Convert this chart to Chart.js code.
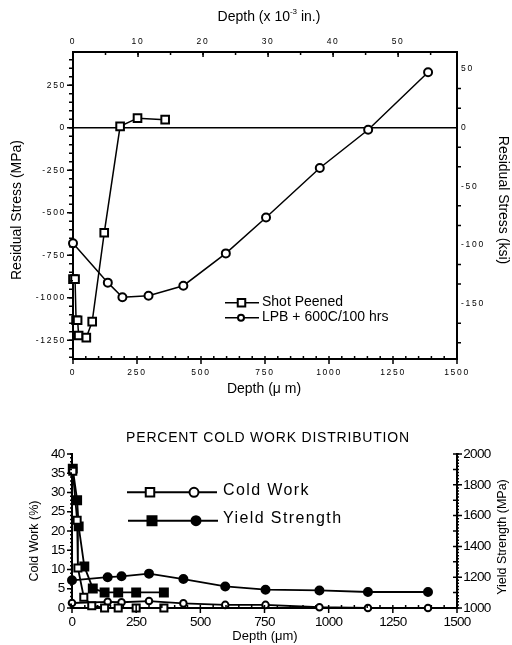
<!DOCTYPE html>
<html>
<head>
<meta charset="utf-8">
<title>Residual stress and cold work</title>
<script src="https://cdn.jsdelivr.net/npm/chart.js"></script>
<style>
  body { margin: 0; background: #fff; }
  canvas { display: block; }
</style>
</head>
<body>
<canvas id="stressChart" width="512" height="400"></canvas>
<canvas id="coldWorkChart" width="512" height="245"></canvas>
<script>
// Data (depth in um, stress in MPa)
var shotDepth = [0, 8, 12, 18, 22, 52, 75, 122, 184, 252, 360];
var shotStress = [-890, -890, -1132, -1132, -1222, -1234, -1140, -618, 8, 56, 47];
var lpbDepth = [0, 136, 193, 295, 431, 597, 754, 964, 1153, 1387];
var lpbStress = [-680, -911, -997, -988, -929, -739, -528, -237, -12, 326];

// cold work (%) and yield strength (MPa)
var cwShotDepth = [3, 20, 23, 46, 77, 127, 180, 250, 358];
var cwShot = [35.5, 22.8, 10.4, 2.8, 0.6, 0, 0, 0, 0];
var ysShotDepth = [3, 20, 26, 48, 81, 127, 180, 250, 358];
var ysShot = [1905, 1700, 1530, 1270, 1127, 1101, 1101, 1101, 1101];
var cwLpbDepth = [0, 139, 193, 300, 434, 597, 754, 964, 1153, 1387];
var cwLpb = [1.3, 1.6, 1.5, 1.8, 1.2, 0.8, 0.8, 0.2, 0, 0];
var ysLpb = [1180, 1200, 1206, 1223, 1188, 1140, 1119, 1114, 1104, 1104];

// tick labels
var depthTicks = [0, 250, 500, 750, 1000, 1250, 1500];
var milTicks = [0, 10, 20, 30, 40, 50];
var mpaTicks = [-1250, -1000, -750, -500, -250, 0, 250];
var ksiTicks = [-150, -100, -50, 0, 50];
var cwTicks = [0, 5, 10, 15, 20, 25, 30, 35, 40];
var ysTicks = [1000, 1200, 1400, 1600, 1800, 2000];

var UM_PER_MIL = 25.4;
var MPA_PER_KSI = 6.895;
var FAMILY = "'Liberation Sans', Arial, Helvetica, sans-serif";

Chart.defaults.font.family = FAMILY;
Chart.defaults.color = '#000';

function pts(xs, ys) {
    return xs.map(function (x, i) { return { x: x, y: ys[i] }; });
}

function series(xs, ys, style, filled, radius, axis, lw) {
    return {
        data: pts(xs, ys),
        yAxisID: axis || 'y',
        showLine: true,
        borderColor: '#000',
        borderWidth: lw || 1.5,
        pointStyle: style,
        pointRadius: radius,
        pointHoverRadius: radius,
        pointBorderWidth: 2,
        pointBorderColor: '#000',
        pointBackgroundColor: filled ? '#000' : '#fff',
        clip: false
    };
}

function fixedTicks(list) {
    return function (scale) {
        scale.ticks = list.map(function (v) { return { value: v }; });
    };
}

function axis(opts) {
    return {
        type: 'linear',
        position: opts.position,
        min: opts.min,
        max: opts.max,
        afterBuildTicks: fixedTicks(opts.ticks),
        afterFit: function (scale) {
            if (scale.isHorizontal()) scale.height = opts.size;
            else scale.width = opts.size;
        },
        grid: { display: false, drawTicks: false },
        border: { display: true, color: '#000', width: 2 },
        ticks: {
            font: { size: opts.fontSize },
            padding: opts.padding,
            maxRotation: 0,
            autoSkip: false,
            callback: function (v) { return String(v); }
        }
    };
}

// small tick marks, placed through the scales
function tickMarks(marks) {
    return {
        id: 'tickMarks',
        afterDraw: function (chart) {
            var ctx = chart.ctx, area = chart.chartArea;
            ctx.save();
            ctx.strokeStyle = '#000';
            ctx.lineWidth = 1.5;
            marks.forEach(function (m) {
                var s = chart.scales[m.axis];
                var k0 = Math.ceil(s.min / m.step - 1e-6);
                ctx.beginPath();
                for (var k = k0; k * m.step <= s.max + 1e-6; k++) {
                    if (m.skip && k % m.skip === 0) continue;
                    var p = s.getPixelForValue(k * m.step);
                    if (s.position === 'bottom') { ctx.moveTo(p, area.bottom); ctx.lineTo(p, area.bottom + m.len); }
                    if (s.position === 'top') { ctx.moveTo(p, area.top); ctx.lineTo(p, area.top - m.len); }
                    if (s.position === 'left') { ctx.moveTo(area.left, p); ctx.lineTo(area.left - m.len, p); }
                    if (s.position === 'right') { ctx.moveTo(area.right, p); ctx.lineTo(area.right + m.len, p); }
                }
                ctx.stroke();
            });
            ctx.restore();
        }
    };
}

// titles and legend rows
function textLayer(tickSpacing, items, rows) {
    return {
        id: 'textLayer',
        beforeDraw: function (chart) {
            chart.ctx.letterSpacing = tickSpacing + 'px';
        },
        afterDraw: function (chart) {
            var ctx = chart.ctx;
            (rows || []).forEach(function (row) {
                ctx.save();
                ctx.strokeStyle = '#000';
                ctx.lineWidth = row.lw;
                ctx.beginPath();
                ctx.moveTo(row.x1, row.y);
                ctx.lineTo(row.x2, row.y);
                ctx.stroke();
                row.marks.forEach(function (m) {
                    ctx.beginPath();
                    if (m.shape === 'rect') ctx.rect(m.x - m.size / 2, row.y - m.size / 2, m.size, m.size);
                    else ctx.arc(m.x, row.y, m.size / 2, 0, Math.PI * 2);
                    ctx.fillStyle = m.filled ? '#000' : '#fff';
                    ctx.fill();
                    ctx.lineWidth = 2;
                    ctx.stroke();
                });
                ctx.restore();
            });
            items.forEach(function (it) {
                var runs = it.runs || [{ t: it.text, s: it.size }];
                ctx.save();
                ctx.letterSpacing = (it.spacing || 0) + 'px';
                ctx.fillStyle = '#000';
                ctx.textBaseline = 'middle';
                ctx.textAlign = 'left';
                ctx.translate(it.x, it.y);
                if (it.rot) ctx.rotate(it.rot * Math.PI / 180);
                var total = 0;
                runs.forEach(function (r) {
                    ctx.font = r.s + 'px ' + FAMILY;
                    r.w = ctx.measureText(r.t).width;
                    total += r.w;
                });
                var x = it.align === 'left' ? 0 : -total / 2;
                runs.forEach(function (r) {
                    ctx.font = r.s + 'px ' + FAMILY;
                    ctx.fillText(r.t, x, r.dy || 0);
                    x += r.w;
                });
                ctx.restore();
            });
        }
    };
}

// ---- residual stress chart ----
var yMin = -1360, yMax = 445;
var sx = axis({ position: 'bottom', min: 0, max: 1500, ticks: depthTicks, size: 41, fontSize: 8.5, padding: 9 });
var sx2 = axis({ position: 'top', min: 0, max: 1500 / UM_PER_MIL, ticks: milTicks, size: 52, fontSize: 8.5, padding: 5 });
var sy = axis({ position: 'left', min: yMin, max: yMax, ticks: mpaTicks, size: 73, fontSize: 8.5, padding: 7 });
var sy2 = axis({ position: 'right', min: yMin / MPA_PER_KSI, max: yMax / MPA_PER_KSI, ticks: ksiTicks, size: 55, fontSize: 8.5, padding: 4 });
sy.grid = {
    display: true,
    drawTicks: false,
    lineWidth: 1.5,
    color: function (c) { return c.tick && c.tick.value === 0 ? '#000' : 'rgba(0,0,0,0)'; }
};

new Chart(document.getElementById('stressChart'), {
    type: 'scatter',
    data: {
        datasets: [
            series(shotDepth, shotStress, 'rect', false, 5.4),
            series(lpbDepth, lpbStress, 'circle', false, 4)
        ]
    },
    options: {
        responsive: false,
        animation: false,
        layout: { padding: 0 },
        scales: { x: sx, x2: sx2, y: sy, y2: sy2 },
        plugins: { legend: { display: false }, tooltip: { enabled: false } }
    },
    plugins: [
        tickMarks([
            { axis: 'x', step: 50, len: -3 },
            { axis: 'x', step: 250, len: 5 },
            { axis: 'x2', step: 5, len: -3 },
            { axis: 'x2', step: 10, len: -5 },
            { axis: 'y', step: 50, len: 4 },
            { axis: 'y', step: 250, len: 6 },
            { axis: 'y2', step: 50 / 3, len: 4, skip: 3 }
        ]),
        textLayer(1.7, [
            { runs: [{ t: 'Depth (x 10', s: 14 }, { t: '-3', s: 8, dy: -5 }, { t: ' in.)', s: 14 }], x: 269, y: 17 },
            { text: 'Depth (\u03bc m)', size: 14, x: 264, y: 389 },
            { text: 'Residual Stress (MPa)', size: 14, x: 17, y: 210, rot: -90 },
            { text: 'Residual Stress (ksi)', size: 14, x: 503, y: 200, rot: 90 },
            { text: 'Shot Peened', size: 14, x: 262, y: 302, align: 'left' },
            { text: 'LPB + 600C/100 hrs', size: 14, x: 262, y: 317, align: 'left' }
        ], [
            { y: 302.7, x1: 225, x2: 259, lw: 1.5, marks: [{ shape: 'rect', x: 241.5, size: 7.5 }] },
            { y: 317.7, x1: 225, x2: 259, lw: 1.5, marks: [{ shape: 'circle', x: 241, size: 6 }] }
        ])
    ]
});

// ---- cold work chart ----
var cx = axis({ position: 'bottom', min: 0, max: 1500, ticks: depthTicks, size: 37, fontSize: 13.5, padding: 6.6 });
var cy = axis({ position: 'left', min: 0, max: 40, ticks: cwTicks, size: 72, fontSize: 13.5, padding: 7.5 });
var cy2 = axis({ position: 'right', min: 1000, max: 2000, ticks: ysTicks, size: 55, fontSize: 13.5, padding: 6.3 });

new Chart(document.getElementById('coldWorkChart'), {
    type: 'scatter',
    data: {
        datasets: [
            series(cwShotDepth, cwShot, 'rect', false, 5, 'y', 1.8),
            series(cwLpbDepth, cwLpb, 'circle', false, 3.3, 'y', 1.8),
            series(ysShotDepth, ysShot, 'rect', true, 5.6, 'y2', 1.8),
            series(cwLpbDepth, ysLpb, 'circle', true, 4, 'y2', 1.8)
        ]
    },
    options: {
        responsive: false,
        animation: false,
        layout: { padding: { top: 54 } },
        scales: { x: cx, y: cy, y2: cy2 },
        plugins: { legend: { display: false }, tooltip: { enabled: false } }
    },
    plugins: [
        tickMarks([
            { axis: 'x', step: 50, len: -3 },
            { axis: 'x', step: 250, len: 5 },
            { axis: 'y', step: 1, len: 2 },
            { axis: 'y', step: 5, len: 5 },
            { axis: 'y2', step: 20, len: 2 },
            { axis: 'y2', step: 100, len: -4 },
            { axis: 'y2', step: 200, len: 5 }
        ]),
        textLayer(-0.7, [
            { text: 'PERCENT COLD WORK DISTRIBUTION', size: 14, spacing: 0.8, x: 268, y: 38 },
            { text: 'Cold Work (%)', size: 12.5, x: 35, y: 141, rot: -90 },
            { text: 'Yield Strength (MPa)', size: 12.5, x: 503, y: 137, rot: -90 },
            { text: 'Depth (\u03bcm)', size: 13, x: 265, y: 236 },
            { text: 'Cold Work', size: 16, spacing: 1.4, x: 223, y: 91, align: 'left' },
            { text: 'Yield Strength', size: 16, spacing: 1.4, x: 223, y: 119, align: 'left' }
        ], [
            { y: 92.3, x1: 127, x2: 217, lw: 2, marks: [{ shape: 'rect', x: 150, size: 8.5 }, { shape: 'circle', x: 194, size: 9 }] },
            { y: 120.7, x1: 128, x2: 218, lw: 2, marks: [{ shape: 'rect', x: 152, size: 9, filled: true }, { shape: 'circle', x: 196, size: 9, filled: true }] }
        ])
    ]
});
</script>
</body>
</html>
